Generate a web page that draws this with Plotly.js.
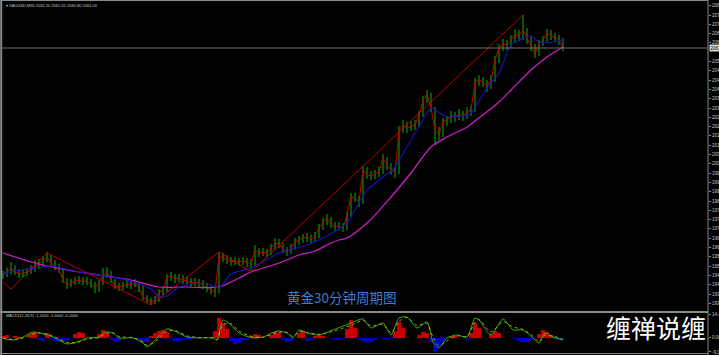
<!DOCTYPE html>
<html><head><meta charset="utf-8">
<script src="https://cdn.plot.ly/plotly-3.0.1.min.js"></script>
<style>html,body{margin:0;padding:0;background:#000;}#chart{width:719px;height:355px;}</style>
</head><body><div id="chart"></div>
<script>
// ---- price bars (XAUUSD M30) ----
const closeP = [1947.5,1949,1951,1949,1948,1948.5,1949,1950,1952,1953,
1955,1956.5,1953.5,1952,1950,1945,1942.5,1943.5,1944.5,1945,
1944,1944.5,1943,1941,1943.5,1947.5,1949,1945,1942,1941.5,
1942,1943,1942.5,1943.5,1941,1936.5,1935,1934,1935,1939,
1940,1946.5,1947,1945.5,1946,1945,1944.5,1943.5,1944,1943.5,
1942.5,1941,1940,1939,1957,1956,1955,1954,1954.5,1954,
1954.5,1954,1953,1960,1958.5,1959,1958.5,1961,1963.5,1963,
1960.5,1959,1961,1964,1965,1966,1966.5,1965,1967,1971,
1974,1976,1973,1971.5,1972,1971,1977.5,1986.5,1986,1984,
2000,1997.5,1997,1998,1999,2006,2002.5,2000,1999,2020,
2022.5,2021,2022,2022.5,2027.5,2035,2038,2031,2020,2017.5,
2024,2025,2027,2026.5,2028,2027,2029,2030,2044,2045,
2044,2042,2045,2055,2061,2063,2062.5,2065,2068,2067,
2070,2066,2062,2058,2063,2065,2068.5,2067.5,2066,2065,
2061];
const highP = [1949.5,1951,1954,1952.5,1950.5,1950.5,1951,1952.5,1955,1955.5,
1957,1959,1957.5,1955,1953,1951,1946,1945.5,1946.5,1947,
1946.5,1946.5,1945.5,1944,1945,1951,1951.5,1949.5,1945.5,1943.5,
1944,1945,1944.5,1945.5,1944,1942,1937.5,1936,1937,1940.5,
1942,1948,1949,1948,1948,1947.5,1946.5,1946,1946,1945.5,
1945,1943.5,1942,1941,1959,1958.5,1957.5,1956.5,1956.5,1956,
1956.5,1956,1955.5,1962.5,1961,1961,1960.5,1963,1966,1965.5,
1963.5,1961.5,1963,1966,1967,1968,1968.5,1967.5,1969,1973,
1976,1978,1976.5,1974,1974,1973.5,1979,1988.5,1988.5,1987,
2002,2001.5,1999.5,2000,2001.5,2008,2006.5,2003.5,2001.5,2022,
2025,2024,2024.5,2025,2029.5,2037,2040,2038.5,2031.5,2021.5,
2026,2027,2029.5,2029,2030.5,2029.5,2031.5,2032,2046,2047.5,
2046.5,2045,2047.5,2057,2063,2065.5,2065,2067.5,2070.5,2070,
2077.5,2071,2067,2063,2065,2067,2070.5,2070,2068.5,2067.5,
2066];
const lowP = [1945.5,1946.5,1948,1947.5,1946,1946.5,1947,1948,1949,1950.5,
1952,1954,1952,1950,1948.5,1943.5,1940.5,1941.5,1942.5,1943,
1942.5,1942.5,1941,1938.5,1939,1942.5,1946,1943.5,1940.5,1939.5,
1940,1941,1940.5,1941.5,1939,1935,1933.5,1932.5,1933,1934,
1937.5,1939,1944.5,1943.5,1944,1943,1942.5,1941.5,1942,1941.5,
1940.5,1939,1938,1936.5,1938.5,1954,1953,1952,1952.5,1952,
1952.5,1951.5,1949,1952,1956.5,1957,1956.5,1957.5,1960,1961,
1958.5,1957,1958,1960,1962.5,1963.5,1964,1963,1964,1966,
1970,1972.5,1971,1969.5,1970,1969,1970,1976.5,1984,1981.5,
1983,1995.5,1995,1995.5,1996.5,1998,2000,1997.5,1996,1998,
2018.5,2018.5,2019.5,2020,2021.5,2026.5,2033.5,2029,2012.5,2015,
2016.5,2022,2023.5,2024,2025,2024.5,2025.5,2027,2029,2042,
2041.5,2039,2040.5,2044,2053.5,2059.5,2060,2061,2063.5,2064.5,
2065,2063,2059.5,2056,2057,2062,2064,2065,2064,2062.5,
2059.5];

// ---- moving averages ----
const blueX = [0,8,12,19,27,32,37,39,41,44,49,52,54,57,62,69,76,79,84,86,91,97,98,102,106,107,111,116,117,121,124,127,132,134,136,140];
const blueY = [1948.5,1951,1952,1949,1946.5,1944.5,1940.5,1936.5,1937,1941.5,1943.5,1942.5,1941,1948,1951,1958.5,1962.5,1965,1970.5,1973.5,1990,1999.5,2001.5,2015,2028.5,2031,2026.5,2027.5,2028.5,2041,2048.5,2062.5,2067,2064,2063.5,2065];
const magX = [0,8,16,24,32,39,46,54,59,62,69,74,78,82,84,86,91,97,102,107,111,116,119,124,127,132,136,140];
const magY = [1958.5,1953.5,1950,1947.5,1945,1941.5,1941.5,1941.5,1946,1949,1953.5,1957.5,1959.5,1963.5,1965,1966,1973.5,1986.5,1998.5,2011.5,2016.5,2021.5,2026,2034,2040,2050,2056.5,2061.5];

// ---- zigzag ----
const zzX = [0,2,11,37,54,62,130];
const zzY = [1944,1940.5,1958.5,1932.5,1959,1949,2077.5];

// ---- MACD sub window ----
const macdX = [0,2.5,5,7.5,9,11,13,16,18.5,21,24,25.5,27.5,29,32.5,35,36,38.5,41,43.5,46,49,52.5,53.5,55,57,59,62.5,65,68.5,71,72.5,74,76,79,82.5,87,90,92,95,97,99,101,103.5,106,107.5,109,111,113.5,116,118,119,122,125,127.5,130,132.5,134,135.5,137.5,140];
const macdV = [-0.5,-1.6,0.3,3.4,2.8,1.6,-0.3,-4.0,-2.8,-0.3,0.3,3.4,2.8,-0.3,-0.3,-3.4,-5.9,-0.3,5.3,3.4,0.3,-0.3,-0.3,-1.6,10.9,7.8,2.8,-0.3,0.3,4.0,2.8,-0.3,4.7,2.8,1.6,4.7,9.0,11.5,5.9,9.0,1.6,12.1,12.7,5.9,9.6,-2.8,-6.5,-0.3,1.6,0.3,12.1,10.9,1.6,11.5,4.7,4.7,-0.3,-3.4,2.8,0.3,-1.6];
const sigV = [-0.3,-1.2,-0.4,2.2,2.9,2.0,0.4,-3.0,-3.2,-1.0,0.0,2.4,3.0,0.6,-0.1,-2.6,-5.0,-1.8,4.0,3.9,1.0,0.0,-0.2,-1.2,8.0,8.5,4.0,0.5,0.2,3.0,3.2,0.5,3.6,3.2,2.0,3.8,7.6,10.6,7.2,8.2,3.0,10.0,12.4,7.5,8.8,0.2,-5.2,-2.0,1.0,0.6,9.5,11.2,3.5,9.8,6.5,5.0,0.8,-2.5,1.5,0.8,-1.0];
const histX = [0,1,3,4,7,8,9,10,11,12,13,14,15,16,18,19,20,24,25,26,27,28,29,34,35,36,37,38,39,40,41,42,43,44,45,46,47,53,54,55,56,57,58,59,60,61,62,63,64,67,68,69,70,71,72,74,75,76,77,78,79,80,82,83,84,85,86,87,88,89,90,91,92,93,95,96,97,98,99,100,104,105,106,107,108,109,110,112,113,116,117,118,119,122,123,124,128,129,130,131,132,134,135,136,137,138,139,140];
const histV = [1.0,1.5,0.8,0.6,2.5,3.4,-1.5,-2.2,2.8,-1.0,-2.0,-2.8,-2.5,-1.5,2.0,3.4,2.5,2.0,4.7,3.0,-1.5,-2.8,-2.0,-1.5,-3.4,-2.5,1.0,2.5,4.0,4.7,3.5,-1.0,-2.2,-2.0,-1.5,-0.8,-1.2,4.0,12.1,9.0,5.0,-2.0,-4.0,-3.5,-1.5,-1.5,1.0,2.2,1.8,1.5,3.4,2.5,-1.5,-2.8,-2.0,2.8,4.0,-2.2,-1.5,0.8,1.4,1.0,-0.8,-1.6,-1.4,-0.8,5.0,10.9,6.0,-1.5,-2.5,-3.4,-3.0,-1.5,-1.0,-1.8,-1.2,4.0,9.6,6.0,1.5,3.4,2.5,-3.0,-9.0,-6.0,-2.5,1.0,1.2,-1.6,3.0,9.0,6.0,2.0,4.0,3.0,-1.0,-2.0,-2.8,-2.5,-1.5,2.0,4.7,3.5,1.5,-1.0,-1.6,-1.2];
const macdTickVals = [14.4209, 0, -9.0012];
const macdTickText = ['14.4209', '0.00', '-9.0012'];

const symbol = 'XAUUSD,M30';
const chartLabel = '黄金30分钟周期图';
const watermark = '缠禅说缠';

// ---------------------------------------------------------
const W = 719, H = 355;
const px = v => v / W;            // horizontal pixel -> paper
const py = v => (H - v) / H;      // vertical pixel -> paper
const idx = closeP.map((_, i) => i);
const openP = closeP.map((c, i) => i === 0 ? c : closeP[i - 1]);
const last = closeP[closeP.length - 1];

const priceTicks = [];
for (let k = 0; k < 34; k++) {
  const v = +(2082.15 - 4.65 * k).toFixed(2);
  if (Math.abs(v - last) > 2.2) priceTicks.push(v);
}

const traces = [
  {type: 'ohlc', x: idx, open: openP, high: highP, low: lowP, close: closeP,
   increasing: {line: {color: '#00b400', width: 1}},
   decreasing: {line: {color: '#00b400', width: 1}},
   tickwidth: 0.05, xaxis: 'x', yaxis: 'y', hoverinfo: 'skip'},
  {type: 'scatter', mode: 'lines', x: idx, y: closeP,
   line: {color: '#c80000', width: 1}, xaxis: 'x', yaxis: 'y', hoverinfo: 'skip'},
  {type: 'scatter', mode: 'lines', x: magX, y: magY,
   line: {color: '#d21ed2', width: 1.2, shape: 'spline', smoothing: 0.8}, xaxis: 'x', yaxis: 'y', hoverinfo: 'skip'},
  {type: 'scatter', mode: 'lines', x: blueX, y: blueY,
   line: {color: '#1414c8', width: 1.1, shape: 'spline', smoothing: 0.6}, xaxis: 'x', yaxis: 'y', hoverinfo: 'skip'},
  {type: 'scatter', mode: 'lines', x: zzX, y: zzY,
   line: {color: '#c00000', width: 1}, xaxis: 'x', yaxis: 'y', hoverinfo: 'skip'},
  {type: 'bar', x: histX, y: histV, width: 1,
   marker: {color: histV.map(v => v >= 0 ? '#c80000' : '#0000c8'), line: {width: 0}},
   xaxis: 'x', yaxis: 'y2', hoverinfo: 'skip'},
  {type: 'scatter', mode: 'lines', x: macdX, y: macdV,
   line: {color: '#33b000', width: 1, shape: 'spline', smoothing: 0.7}, xaxis: 'x', yaxis: 'y2', hoverinfo: 'skip'},
  {type: 'scatter', mode: 'lines', x: macdX, y: sigV,
   line: {color: '#c8c800', width: 0.8, dash: 'dot', shape: 'spline', smoothing: 0.7}, xaxis: 'x', yaxis: 'y2', hoverinfo: 'skip'}
];

const grey = '#8a8a8a';
const layout = {
  width: W, height: H,
  margin: {l: 0, r: 0, t: 0, b: 0, pad: 0},
  paper_bgcolor: '#000', plot_bgcolor: '#000',
  showlegend: false, hovermode: false, bargap: 0,
  font: {family: 'Liberation Sans, Arial, sans-serif', color: '#c8c8c8', size: 5},
  xaxis: {domain: [px(2), px(708)], range: [-0.25, 176.25], showgrid: false, zeroline: false,
          showticklabels: false, ticks: '', showline: false, rangeslider: {visible: false}, fixedrange: true},
  yaxis: {domain: [py(310), py(2)], range: [1930, 2084], side: 'right', showgrid: false, zeroline: false,
          tickvals: priceTicks, tickformat: '.2f', ticks: 'outside', ticklen: 2, tickcolor: grey,
          tickfont: {size: 4.5, color: '#c8c8c8'}, showline: false, fixedrange: true},
  yaxis2: {domain: [py(353), py(313)], range: [-9.633, 15.227], side: 'right', anchor: 'x',
           showgrid: false, zeroline: false, tickvals: macdTickVals, ticktext: macdTickText,
           ticks: 'outside', ticklen: 2, tickcolor: grey, tickfont: {size: 4.5, color: '#c8c8c8'},
           showline: false, fixedrange: true},
  shapes: [
    {type: 'line', xref: 'paper', yref: 'paper', x0: px(1.2), x1: px(1.2), y0: 0, y1: 1, line: {color: grey, width: 2}},
    {type: 'line', xref: 'paper', yref: 'paper', x0: 0, x1: px(708), y0: py(0.5), y1: py(0.5), line: {color: grey, width: 1}},
    {type: 'line', xref: 'paper', yref: 'paper', x0: px(708), x1: px(708), y0: 0, y1: 1, line: {color: grey, width: 1}},
    {type: 'line', xref: 'paper', yref: 'paper', x0: 0, x1: px(708), y0: py(312), y1: py(312), line: {color: grey, width: 2}},
    {type: 'line', xref: 'paper', yref: 'paper', x0: 0, x1: px(708), y0: py(353.5), y1: py(353.5), line: {color: grey, width: 1}},
    {type: 'line', xref: 'paper', yref: 'y', x0: px(2), x1: px(708), y0: last, y1: last, line: {color: '#707070', width: 1}}
  ],
  annotations: [
    {xref: 'paper', yref: 'paper', x: px(4), y: py(5.5), xanchor: 'left', yanchor: 'middle', showarrow: false,
     text: '▾ ' + symbol + ' 2061.20 2061.55 2060.80 2061.00', font: {size: 4, color: '#c8c8c8'}},
    {xref: 'paper', yref: 'paper', x: px(4), y: py(315.5), xanchor: 'left', yanchor: 'middle', showarrow: false,
     text: 'MACD(12,26,9) -1.2000 -1.0000 -0.2000', font: {size: 4, color: '#c8c8c8'}},
    {xref: 'paper', yref: 'y', x: px(708.5), y: last, xanchor: 'left', yanchor: 'middle', showarrow: false,
     text: last.toFixed(2), bgcolor: '#d8d8d8', borderpad: 0.5, font: {size: 4.5, color: '#000'}},
    {xref: 'paper', yref: 'paper', x: px(342), y: py(296.5), xanchor: 'center', yanchor: 'middle', showarrow: false,
     text: chartLabel, font: {family: 'Noto Sans CJK SC', size: 13.5, color: '#3a7fd2'}},
    {xref: 'paper', yref: 'paper', x: px(656), y: py(327), xanchor: 'center', yanchor: 'middle', showarrow: false,
     text: watermark, font: {family: 'Noto Sans CJK SC', size: 25, color: '#ffffff'}}
  ]
};

Plotly.newPlot('chart', traces, layout, {staticPlot: true, displayModeBar: false});
</script></body></html>
